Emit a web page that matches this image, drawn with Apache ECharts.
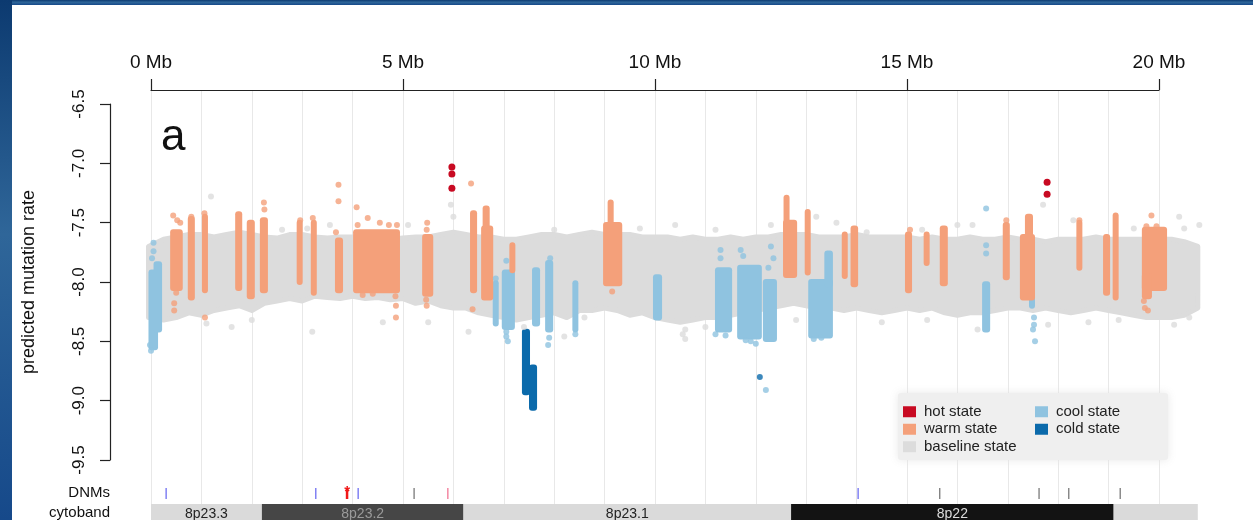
<!DOCTYPE html>
<html>
<head>
<meta charset="utf-8">
<script src="https://cdn.jsdelivr.net/npm/echarts@6/dist/echarts.min.js"></script>
<style>
  html, body { margin: 0; padding: 0; background: #fff; }
  #chart { width: 1253px; height: 520px; }
</style>
</head>
<body>
<div id="chart"></div>
<script>
// Chromosome 8p: predicted mutation rate along the first ~21 Mb.

const xTickValues = [0, 5, 10, 15, 20];           // Mb
const yTickValues = [-9.5, -9.0, -8.5, -8.0, -7.5, -7.0, -6.5];

// baseline state: envelope of the dense grey cloud [Mb, upper, lower]
const baselineBand = [
  [-0.05, -7.70, -8.30], [0.25, -7.64, -8.32], [0.5, -7.62, -8.30], [0.75, -7.60, -8.26],
  [1.0, -7.60, -8.28], [1.25, -7.62, -8.24], [1.5, -7.60, -8.22], [1.75, -7.58, -8.20],
  [2.0, -7.60, -8.24], [2.25, -7.62, -8.18], [2.5, -7.63, -8.16], [2.75, -7.60, -8.14],
  [3.0, -7.60, -8.16], [3.25, -7.62, -8.12], [3.5, -7.63, -8.13], [3.75, -7.62, -8.14],
  [4.0, -7.62, -8.12], [4.25, -7.64, -8.14], [4.5, -7.62, -8.13], [4.75, -7.64, -8.15],
  [5.0, -7.63, -8.14], [5.25, -7.62, -8.18], [5.5, -7.62, -8.16], [5.75, -7.60, -8.20],
  [6.0, -7.58, -8.22], [6.25, -7.60, -8.22], [6.5, -7.62, -8.26], [6.75, -7.62, -8.28],
  [7.0, -7.64, -8.30], [7.25, -7.64, -8.32], [7.5, -7.62, -8.30], [7.75, -7.60, -8.28],
  [8.0, -7.60, -8.26], [8.25, -7.62, -8.30], [8.5, -7.60, -8.24], [8.75, -7.58, -8.24],
  [9.0, -7.60, -8.22], [9.25, -7.60, -8.24], [9.5, -7.60, -8.28], [9.75, -7.62, -8.26],
  [10.0, -7.62, -8.30], [10.25, -7.62, -8.32], [10.5, -7.64, -8.34], [10.75, -7.62, -8.32],
  [11.0, -7.64, -8.30], [11.25, -7.64, -8.30], [11.5, -7.62, -8.28], [11.75, -7.64, -8.26],
  [12.0, -7.62, -8.24], [12.25, -7.62, -8.22], [12.5, -7.60, -8.20], [12.75, -7.60, -8.18],
  [13.0, -7.60, -8.20], [13.25, -7.62, -8.22], [13.5, -7.62, -8.22], [13.75, -7.62, -8.24],
  [14.0, -7.60, -8.22], [14.25, -7.62, -8.24], [14.5, -7.62, -8.26], [14.75, -7.62, -8.24],
  [15.0, -7.62, -8.22], [15.25, -7.64, -8.24], [15.5, -7.62, -8.22], [15.75, -7.64, -8.26],
  [16.0, -7.64, -8.28], [16.25, -7.62, -8.26], [16.5, -7.64, -8.26], [16.75, -7.64, -8.24],
  [17.0, -7.62, -8.22], [17.25, -7.64, -8.22], [17.5, -7.64, -8.24], [17.75, -7.66, -8.22],
  [18.0, -7.64, -8.24], [18.25, -7.64, -8.26], [18.5, -7.64, -8.24], [18.75, -7.62, -8.22],
  [19.0, -7.64, -8.24], [19.25, -7.64, -8.26], [19.5, -7.64, -8.28], [19.75, -7.64, -8.30],
  [20.0, -7.64, -8.30], [20.25, -7.64, -8.30], [20.5, -7.66, -8.28], [20.77, -7.70, -8.22]
];
// isolated baseline windows outside the main cloud [Mb, rate]
const baselinePoints = [
  [1.19, -7.28], [2.6, -7.56], [3.1, -7.55], [3.55, -7.52], [5.1, -7.52], [5.95, -7.35],
  [6.0, -7.45], [8.0, -7.56], [9.7, -7.55], [10.4, -7.52], [11.2, -7.56], [12.3, -7.52],
  [13.2, -7.45], [13.6, -7.50], [14.2, -7.58], [15.3, -7.56], [16.0, -7.52], [16.3, -7.52],
  [17.7, -7.35], [18.3, -7.48], [19.5, -7.55], [20.4, -7.45], [20.5, -7.55], [20.8, -7.52],
  [1.1, -8.35], [1.6, -8.38], [2.0, -8.32], [3.2, -8.42], [4.6, -8.34], [5.5, -8.34],
  [6.3, -8.42], [7.4, -8.38], [8.2, -8.46], [8.6, -8.30], [10.6, -8.40], [11.0, -8.38],
  [12.8, -8.32], [14.5, -8.34], [15.4, -8.32], [16.4, -8.40], [17.8, -8.36], [18.6, -8.34],
  [19.2, -8.32], [20.3, -8.36], [20.6, -8.30], [10.55, -8.44], [10.6, -8.48]
];

// runs of windows in one state [startMb, endMb, upper rate, lower rate]
const warmRuns = [
  [0.38, 0.63, -7.58, -8.05], [0.73, 0.87, -7.47, -8.13], [1.01, 1.13, -7.45, -8.07],
  [1.67, 1.81, -7.43, -8.05], [1.90, 2.06, -7.50, -8.12], [2.16, 2.32, -7.48, -8.07],
  [2.90, 3.00, -7.50, -8.00], [3.19, 3.27, -7.50, -8.09], [3.65, 3.81, -7.65, -8.07],
  [4.01, 4.94, -7.58, -8.07], [5.38, 5.60, -7.62, -8.10], [6.33, 6.47, -7.42, -8.07],
  [6.58, 6.72, -7.38, -7.60], [6.55, 6.79, -7.55, -8.13], [7.14, 7.20, -7.69, -7.90],
  [9.06, 9.18, -7.33, -7.55], [8.97, 9.35, -7.52, -8.01],
  [12.56, 12.66, -7.29, -7.55], [12.54, 12.82, -7.50, -7.94], [12.98, 13.08, -7.41, -7.92],
  [13.71, 13.82, -7.60, -7.95], [13.88, 14.03, -7.55, -8.02], [14.96, 15.10, -7.60, -8.07],
  [15.34, 15.44, -7.60, -7.84], [15.65, 15.81, -7.55, -8.01], [16.90, 17.04, -7.52, -7.96],
  [17.34, 17.50, -7.45, -7.66], [17.24, 17.54, -7.62, -8.13], [18.37, 18.47, -7.50, -7.88],
  [18.89, 19.03, -7.62, -8.09], [19.09, 19.19, -7.44, -8.13],
  [19.66, 20.16, -7.56, -8.05], [19.66, 19.86, -7.95, -8.12]
];
const warmPoints = [
  [0.44, -7.44], [0.52, -7.48], [0.58, -7.50], [0.50, -8.09], [0.46, -8.18], [0.46, -8.24],
  [0.80, -7.45], [1.06, -7.42], [1.07, -8.30], [2.24, -7.33], [2.25, -7.39], [2.96, -7.48],
  [3.21, -7.46], [3.72, -7.18], [3.72, -7.32], [3.67, -7.58], [4.08, -7.37], [4.30, -7.46],
  [4.54, -7.50], [4.72, -7.52], [4.88, -7.52], [4.10, -7.52], [4.85, -8.12], [4.86, -8.20],
  [4.86, -8.30], [4.40, -8.10], [4.20, -8.11], [5.48, -7.50], [5.47, -7.56], [5.46, -8.15],
  [5.47, -8.20], [6.35, -7.17], [6.38, -8.23], [9.15, -8.08], [16.97, -7.48], [18.42, -7.48],
  [19.85, -7.44], [19.75, -7.53], [19.95, -7.53], [19.70, -8.16], [19.72, -8.22], [19.78, -8.24],
  [15.06, -7.56]
];
const hotPoints = [[5.97, -7.03], [5.97, -7.09], [5.97, -7.21], [17.78, -7.16], [17.78, -7.26]];

const coolRuns = [
  [-0.05, 0.14, -7.92, -8.55], [0.05, 0.22, -7.85, -8.40], [6.79, 6.89, -8.01, -8.35],
  [6.96, 7.22, -7.92, -8.38], [7.56, 7.72, -7.90, -8.35], [7.82, 7.98, -7.84, -8.40],
  [8.37, 8.47, -8.01, -8.40], [9.96, 10.14, -7.96, -8.30], [11.19, 11.53, -7.90, -8.40],
  [11.63, 12.12, -7.88, -8.46], [12.14, 12.42, -8.00, -8.48], [13.04, 13.53, -8.00, -8.45],
  [13.36, 13.53, -7.76, -8.02], [16.49, 16.65, -8.02, -8.40], [17.44, 17.52, -7.90, -8.20]
];
const coolPoints = [
  [0.05, -7.67], [0.05, -7.74], [0.02, -7.80], [0.0, -8.58], [-0.02, -8.53], [6.84, -7.97],
  [7.05, -7.82], [7.05, -8.42], [7.05, -8.46], [7.08, -8.50], [7.92, -7.80], [7.90, -8.47],
  [7.88, -8.53], [11.3, -7.73], [11.3, -7.80], [11.2, -8.44], [11.4, -8.45], [11.7, -7.73],
  [11.75, -7.78], [11.9, -8.50], [12.0, -8.52], [11.8, -8.49], [12.3, -7.70], [12.35, -7.80],
  [12.25, -7.88], [13.15, -8.48], [13.3, -8.47], [16.57, -7.38], [16.57, -7.69], [16.57, -7.76],
  [17.52, -8.30], [17.52, -8.36], [17.50, -8.40], [17.54, -8.50], [12.20, -8.91], [8.42, -8.44]
];
const coldRuns = [[7.36, 7.52, -8.42, -8.93], [7.50, 7.66, -8.72, -9.06]];
const coldPoints = [[12.08, -8.80]];

// de novo mutations [Mb, class]
const dnmSites = [
  [0.30, 'blue'], [3.27, 'blue'], [3.89, 'red'], [4.11, 'blue'], [5.22, 'grey'], [5.89, 'pink'],
  [14.03, 'blue'], [15.65, 'grey'], [17.62, 'grey'], [18.21, 'grey'], [19.23, 'grey']
];
// cytobands [startMb, endMb, name, stain]
const cytobands = [
  [0, 2.2, '8p23.3', 'gneg'], [2.2, 6.2, '8p23.2', 'gpos75'], [6.2, 12.7, '8p23.1', 'gneg'],
  [12.7, 19.1, '8p22', 'gpos100'], [19.1, 20.77, '', 'gneg']
];

const COLORS = {
  hot: '#c80a22', warm: '#f4a07a', base: '#dcdcdc', cool: '#8fc3e0', cold: '#0b6aab'
};
const DNM_COLORS = { blue: '#6262f0', grey: '#6e6e6e', pink: '#f06a8c', red: '#f01818' };
const BAND_FILL = { gneg: '#dadada', gpos75: '#464646', gpos100: '#131313' };
const BAND_TEXT = { gneg: '#222', gpos75: '#9a9a9a', gpos100: '#dcdcdc' };
const FONT = '"Liberation Sans", Arial, Helvetica, sans-serif';

function runItem(params, api) {
  const a = api.coord([api.value(0), api.value(2)]);
  const b = api.coord([api.value(1), api.value(3)]);
  let x = a[0], w = b[0] - a[0];
  if (w < 6) { x -= (6 - w) / 2; w = 6; }
  const y = a[1] - 3, h = b[1] - a[1] + 6;
  return {
    type: 'rect',
    shape: { x: x, y: y, width: w, height: h, r: 3 },
    style: { fill: api.visual('color') }
  };
}

function bandItem(params, api) {
  const pts = [];
  baselineBand.forEach(d => pts.push(api.coord([d[0], d[1]])));
  for (let i = baselineBand.length - 1; i >= 0; i--) {
    pts.push(api.coord([baselineBand[i][0], baselineBand[i][2]]));
  }
  return {
    type: 'polygon',
    shape: { points: pts },
    style: { fill: COLORS.base, stroke: COLORS.base, lineWidth: 5, lineJoin: 'round' }
  };
}

function dnmItem(params, api) {
  const cs = params.coordSys;
  const bottom = cs.y + cs.height;
  const x = api.coord([api.value(0), 0])[0];
  const cls = dnmSites[params.dataIndex][1];
  const col = DNM_COLORS[cls];
  const children = [{
    type: 'line',
    shape: { x1: x, y1: bottom - 32, x2: x, y2: bottom - 21 },
    style: { stroke: col, lineWidth: cls === 'red' ? 2.5 : 1.2 }
  }];
  if (cls === 'red') {
    children.push({
      type: 'text',
      style: { text: '*', x: x, y: bottom - 28, align: 'center', verticalAlign: 'middle',
               fill: col, font: 'bold 15px ' + FONT }
    });
  }
  return { type: 'group', children: children };
}

function cytoItem(params, api) {
  const cs = params.coordSys;
  const bottom = cs.y + cs.height;
  const x0 = api.coord([api.value(0), 0])[0];
  const x1 = api.coord([api.value(1), 0])[0];
  const band = cytobands[params.dataIndex];
  return {
    type: 'group',
    children: [
      { type: 'rect', shape: { x: x0, y: bottom - 16, width: x1 - x0, height: 18 },
        style: { fill: BAND_FILL[band[3]] } },
      { type: 'text', style: { text: band[2], x: (x0 + x1) / 2, y: bottom - 6,
        align: 'center', verticalAlign: 'middle', fill: BAND_TEXT[band[3]], font: '14px ' + FONT } }
    ]
  };
}

const chart = echarts.init(document.getElementById('chart'));
const frameGrad = new echarts.graphic.LinearGradient(0, 0, 0, 1, [
  { offset: 0, color: '#0c3a70' }, { offset: 0.45, color: '#2f6699' }, { offset: 1, color: '#16498a' }
]);

const option = {
  animation: false,
  backgroundColor: '#ffffff',
  textStyle: { fontFamily: FONT },
  grid: [
    { left: 151, right: 94, top: 104, bottom: 60 },
    { left: 151, right: 94, top: 90, bottom: 0 }
  ],
  xAxis: [
    {
      gridIndex: 0, type: 'value', position: 'top', offset: 14,
      min: xTickValues[0], max: xTickValues[xTickValues.length - 1], interval: 5,
      axisLine: { onZero: false, lineStyle: { color: '#222', width: 1.2 } },
      axisTick: { length: 11, lineStyle: { color: '#222', width: 1.2 } },
      axisLabel: { formatter: v => v + ' Mb', fontSize: 19, color: '#111', margin: 18, fontFamily: FONT },
      splitLine: { show: false }
    },
    {
      gridIndex: 1, type: 'value', min: 0, max: 20, interval: 1,
      axisLine: { show: false }, axisTick: { show: false }, axisLabel: { show: false },
      splitLine: { show: true, lineStyle: { color: '#e8e8e8', width: 1 } }
    }
  ],
  yAxis: [
    {
      gridIndex: 0, type: 'value', position: 'left', offset: 41,
      min: yTickValues[0], max: yTickValues[yTickValues.length - 1], interval: 0.5,
      axisLine: { show: true, onZero: false, lineStyle: { color: '#222', width: 1.2 } },
      axisTick: { show: true, length: 10, lineStyle: { color: '#222', width: 1.2 } },
      axisLabel: { rotate: 90, fontSize: 17, color: '#111', margin: 22, fontFamily: FONT,
                   formatter: v => v.toFixed(1) },
      splitLine: { show: false },
      name: 'predicted mutation rate', nameLocation: 'middle', nameRotate: 90, nameGap: 72,
      nameTextStyle: { fontSize: 18, color: '#111', fontFamily: FONT }
    },
    { gridIndex: 1, type: 'value', min: 0, max: 1, show: false }
  ],
  legend: [
    {
      data: ['hot state', 'warm state', 'baseline state'], orient: 'vertical',
      left: 903, top: 403, icon: 'rect', itemWidth: 13, itemHeight: 11, itemGap: 0,
      selectedMode: false, padding: 0,
      textStyle: { fontSize: 15, color: '#222', lineHeight: 17.5, padding: [0, 0, 0, 3], fontFamily: FONT }
    },
    {
      data: ['cool state', 'cold state'], orient: 'vertical',
      left: 1035, top: 403, icon: 'rect', itemWidth: 13, itemHeight: 11, itemGap: 0,
      selectedMode: false, padding: 0,
      textStyle: { fontSize: 15, color: '#222', lineHeight: 17.5, padding: [0, 0, 0, 3], fontFamily: FONT }
    }
  ],
  graphic: [
    { type: 'rect', left: 0, top: 0, shape: { width: 1253, height: 5 }, style: { fill: frameGrad }, silent: true },
    { type: 'rect', left: 0, top: 0, shape: { width: 12, height: 520 }, style: { fill: frameGrad }, silent: true },
    { type: 'rect', left: 898, top: 393, z: 3, shape: { width: 270, height: 67, r: 3 },
      style: { fill: '#efefef', shadowBlur: 8, shadowColor: 'rgba(230,230,230,0.9)' }, silent: true },
    { type: 'text', left: 161, top: 116, style: { text: 'a', font: '44px ' + FONT, fill: '#111' }, silent: true },
    { type: 'text', right: 1253 - 110, top: 485, style: { text: 'DNMs', font: '15px ' + FONT, fill: '#111', align: 'right' }, silent: true },
    { type: 'text', right: 1253 - 110, top: 505, style: { text: 'cytoband', font: '15px ' + FONT, fill: '#111', align: 'right' }, silent: true }
  ],
  series: [
    { type: 'custom', name: 'baseline state', xAxisIndex: 0, yAxisIndex: 0, data: [[0]],
      renderItem: bandItem, itemStyle: { color: COLORS.base }, silent: true },
    { type: 'scatter', name: 'baseline state', xAxisIndex: 0, yAxisIndex: 0, data: baselinePoints,
      symbolSize: 6, itemStyle: { color: COLORS.base }, clip: false, silent: true },
    { type: 'custom', name: 'cool state', data: coolRuns, renderItem: runItem,
      itemStyle: { color: COLORS.cool }, silent: true },
    { type: 'scatter', name: 'cool state', data: coolPoints, symbolSize: 6,
      itemStyle: { color: COLORS.cool }, clip: false, silent: true },
    { type: 'custom', name: 'warm state', data: warmRuns, renderItem: runItem,
      itemStyle: { color: COLORS.warm }, silent: true },
    { type: 'scatter', name: 'warm state', data: warmPoints, symbolSize: 6,
      itemStyle: { color: COLORS.warm }, clip: false, silent: true },
    { type: 'custom', name: 'cold state', data: coldRuns, renderItem: runItem,
      itemStyle: { color: COLORS.cold }, silent: true },
    { type: 'scatter', name: 'cold state', data: coldPoints, symbolSize: 6,
      itemStyle: { color: COLORS.cold }, clip: false, silent: true },
    { type: 'scatter', name: 'hot state', data: hotPoints, symbolSize: 7,
      itemStyle: { color: COLORS.hot, opacity: 1 }, clip: false, silent: true },
    { type: 'custom', name: 'DNMs', xAxisIndex: 1, yAxisIndex: 1,
      data: dnmSites.map(d => [d[0]]), renderItem: dnmItem, silent: true },
    { type: 'custom', name: 'cytoband', xAxisIndex: 1, yAxisIndex: 1,
      data: cytobands.map(d => [d[0], d[1]]), renderItem: cytoItem, silent: true }
  ]
};
chart.setOption(option);
</script>
</body>
</html>
